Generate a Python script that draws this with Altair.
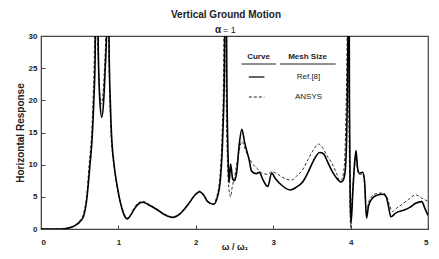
import altair as alt
import pandas as pd

# Ref.[8] (solid)
ref_x = [0, 0.2, 0.3, 0.4, 0.45, 0.5, 0.55, 0.59, 0.633, 0.66, 0.683, 0.70, 0.716, 0.74, 0.76, 0.785,
         0.81, 0.83, 0.85, 0.865, 0.88, 0.895, 0.91, 0.944, 0.98, 1.01, 1.05, 1.08, 1.114, 1.15, 1.2,
         1.25, 1.316, 1.4, 1.5, 1.6, 1.70, 1.8, 1.9, 2.0, 2.05, 2.1, 2.15, 2.23, 2.28, 2.32, 2.35,
         2.37, 2.385, 2.40, 2.42, 2.43, 2.45, 2.476, 2.5, 2.53, 2.56, 2.595, 2.63, 2.69, 2.72, 2.78,
         2.82, 2.87, 2.93, 2.98, 3.03, 3.11, 3.22, 3.3, 3.38, 3.45, 3.52, 3.6, 3.65, 3.7, 3.76, 3.82,
         3.87, 3.9, 3.93, 3.95, 3.965, 3.975, 3.985, 3.995, 4.005, 4.03, 4.05, 4.07, 4.09, 4.11, 4.156,
         4.18, 4.206, 4.23, 4.27, 4.33, 4.42, 4.46, 4.49, 4.52, 4.586, 4.69, 4.77, 4.84, 4.92, 4.96, 5.0]
ref_y = [0, 0.01, 0.05, 0.3, 0.6, 1.1, 2.0, 4.5, 10, 14, 20, 27, 60, 28, 20, 17.4,
         20, 25, 32, 60, 28, 20, 15, 10, 7, 5, 3, 2.0, 1.55, 2.0, 3.0,
         3.8, 4.15, 3.7, 3.0, 2.2, 1.8, 2.4, 3.8, 5.4, 5.8, 5.3, 4.3, 3.84, 5.0, 8, 15,
         25, 60, 25, 10, 7.2, 10.1, 7.8, 7.5, 9, 13, 15.5, 13.5, 10.7, 9.0, 8.6,
         8.8, 7.6, 6.6, 8.7, 7.8, 6.8, 6.07, 6.5, 7.3, 8.8, 10.6, 11.9, 11.7, 10.5, 9.0, 7.9,
         7.3, 7.5, 9, 15, 30, 60, 20, 5, 0.9, 6, 10, 12.2, 9.5, 8.7, 8.8,
         7.5, 1.66, 3.5, 4.6, 5.2, 5.4, 5.0, 3.5, 1.9, 2.5, 2.95, 3.4, 4.0, 4.25, 3.2, 2.1]

# ANSYS (dashed)
ans_x = [0, 0.2, 0.3, 0.4, 0.45, 0.5, 0.55, 0.59, 0.625, 0.655, 0.675, 0.69, 0.705, 0.72, 0.74, 0.76,
         0.78, 0.80, 0.82, 0.84, 0.855, 0.87, 0.885, 0.90, 0.935, 0.97, 1.0, 1.05, 1.08, 1.12, 1.16,
         1.2, 1.25, 1.32, 1.4, 1.5, 1.6, 1.7, 1.8, 1.9, 2.0, 2.05, 2.1, 2.15, 2.22, 2.27, 2.31, 2.34,
         2.36, 2.375, 2.39, 2.41, 2.43, 2.45, 2.47, 2.5, 2.55, 2.595, 2.65, 2.73, 2.8, 2.87, 2.93,
         2.98, 3.05, 3.11, 3.235, 3.3, 3.38, 3.45, 3.52, 3.586, 3.64, 3.7, 3.76, 3.82, 3.86, 3.89,
         3.92, 3.94, 3.955, 3.965, 3.975, 3.99, 4.0, 4.02, 4.05, 4.07, 4.09, 4.11, 4.156, 4.18, 4.206,
         4.23, 4.27, 4.33, 4.42, 4.46, 4.5, 4.54, 4.6, 4.65, 4.75, 4.84, 4.92, 5.0]
ans_y = [0, 0.01, 0.06, 0.35, 0.7, 1.3, 2.4, 5.2, 10.5, 15, 21, 28, 60, 34, 26, 21,
         19.4, 21, 25, 32, 60, 33, 22, 16, 10.5, 7.5, 5.3, 3.2, 2.2, 1.7, 2.2,
         3.2, 4.0, 4.3, 3.8, 3.1, 2.3, 1.9, 2.5, 3.9, 5.5, 5.9, 5.4, 4.4, 3.9, 5.0, 8, 15,
         25, 60, 25, 10, 6.0, 5.0, 6.5, 8.0, 11.5, 13.6, 12.0, 10.2, 9.3, 8.6, 8.5,
         8.9, 8.6, 8.1, 7.6, 8.2, 9.2, 10.8, 12.3, 13.2, 12.6, 11.3, 10.2, 8.6, 7.5, 7.8,
         10, 18, 30, 60, 25, 6, 0.2, 5, 9.5, 11.5, 9.2, 8.5, 8.5, 7, 2.0,
         4.0, 5.0, 5.5, 5.6, 5.2, 3.8, 2.7, 3.3, 3.7, 4.6, 5.3, 4.8, 4.3]

y_ticks = [0, 5, 10, 15, 20, 25, 30]
x_ticks = [0, 1, 2, 3, 4, 5]

ref_df = pd.DataFrame({"w": ref_x, "r": ref_y})
ans_df = pd.DataFrame({"w": ans_x, "r": ans_y})

FONT = "Liberation Sans"
INK = "#222"

xs = alt.Scale(domain=[0, 5], nice=False)
ys = alt.Scale(domain=[0, 30], nice=False)

xax = alt.Axis(values=x_ticks, title="ω / ω₁", format="d", grid=False, labelOverlap=False,
               tickSize={"expr": "-4"}, labelPadding=13, titleY=17, titleBaseline="middle",
               labelFont=FONT, labelFontSize=8, labelFontWeight="bold",
               titleFont=FONT, titleFontSize=9, titleFontWeight="bold",
               domainColor="#444", tickColor="#444", labelColor=INK, titleColor=INK)
yax = alt.Axis(values=y_ticks, title="Horizontal Response", grid=False, labelOverlap=False,
               format="d", labelBound=False, labelFlush=False,
               tickSize={"expr": "-4"}, labelPadding=8, titleX=-21, titleBaseline="middle",
               labelFont=FONT, labelFontSize=8, labelFontWeight="bold",
               titleFont=FONT, titleFontSize=10, titleFontWeight="bold",
               domainColor="#444", tickColor="#444", labelColor=INK, titleColor=INK)

ans_line = alt.Chart(ans_df).mark_line(
    clip=True, color="#333", strokeWidth=1, strokeDash=[3, 2], interpolate="monotone"
).encode(x=alt.X("w:Q", scale=xs, axis=xax), y=alt.Y("r:Q", scale=ys, axis=yax))

ref_line = alt.Chart(ref_df).mark_line(
    clip=True, color="black", strokeWidth=1.6, interpolate="monotone"
).encode(x=alt.X("w:Q", scale=xs, axis=xax), y=alt.Y("r:Q", scale=ys, axis=yax))

leg = pd.DataFrame({"a": [0]})
base = alt.Chart(leg)

def txt(s, x, y, bold=False, size=8, align="center"):
    return base.mark_text(text=s, font=FONT, fontSize=size, fontWeight="bold" if bold else "normal",
                          color=INK, align=align, baseline="middle").encode(
        x=alt.value(x), y=alt.value(y))

def rule(x1, x2, y, dash=None, w=1):
    kw = dict(color=INK, strokeWidth=w)
    if dash:
        kw["strokeDash"] = dash
    return base.mark_rule(**kw).encode(x=alt.value(x1), x2=alt.value(x2), y=alt.value(y))

annot = alt.layer(
    txt("Vertical Ground Motion", 185, -21, True, 10),
    txt("α", 177, -6, True, 10),
    txt("= 1", 182, -6, False, 9, "left"),
    txt("Curve", 217.5, 21, True),
    txt("Mesh Size", 266.5, 21, True),
    rule(200.5, 235, 28),
    rule(239, 294.7, 28),
    rule(207.8, 223.4, 41, w=1.4),
    txt("Ref.[8]", 267.5, 41),
    rule(207.8, 223.4, 61, dash=[3, 2]),
    txt("ANSYS", 267.5, 61),
)

chart = alt.layer(ans_line, ref_line, annot).properties(
    width=387, height=193,
    autosize=alt.AutoSizeParams(type="none"),
    padding={"left": 33, "top": 28, "right": 3, "bottom": 22},
).configure_view(stroke="#444", strokeWidth=1.2)

chart.save("out.html", embed_options={"renderer": "svg", "actions": False})
